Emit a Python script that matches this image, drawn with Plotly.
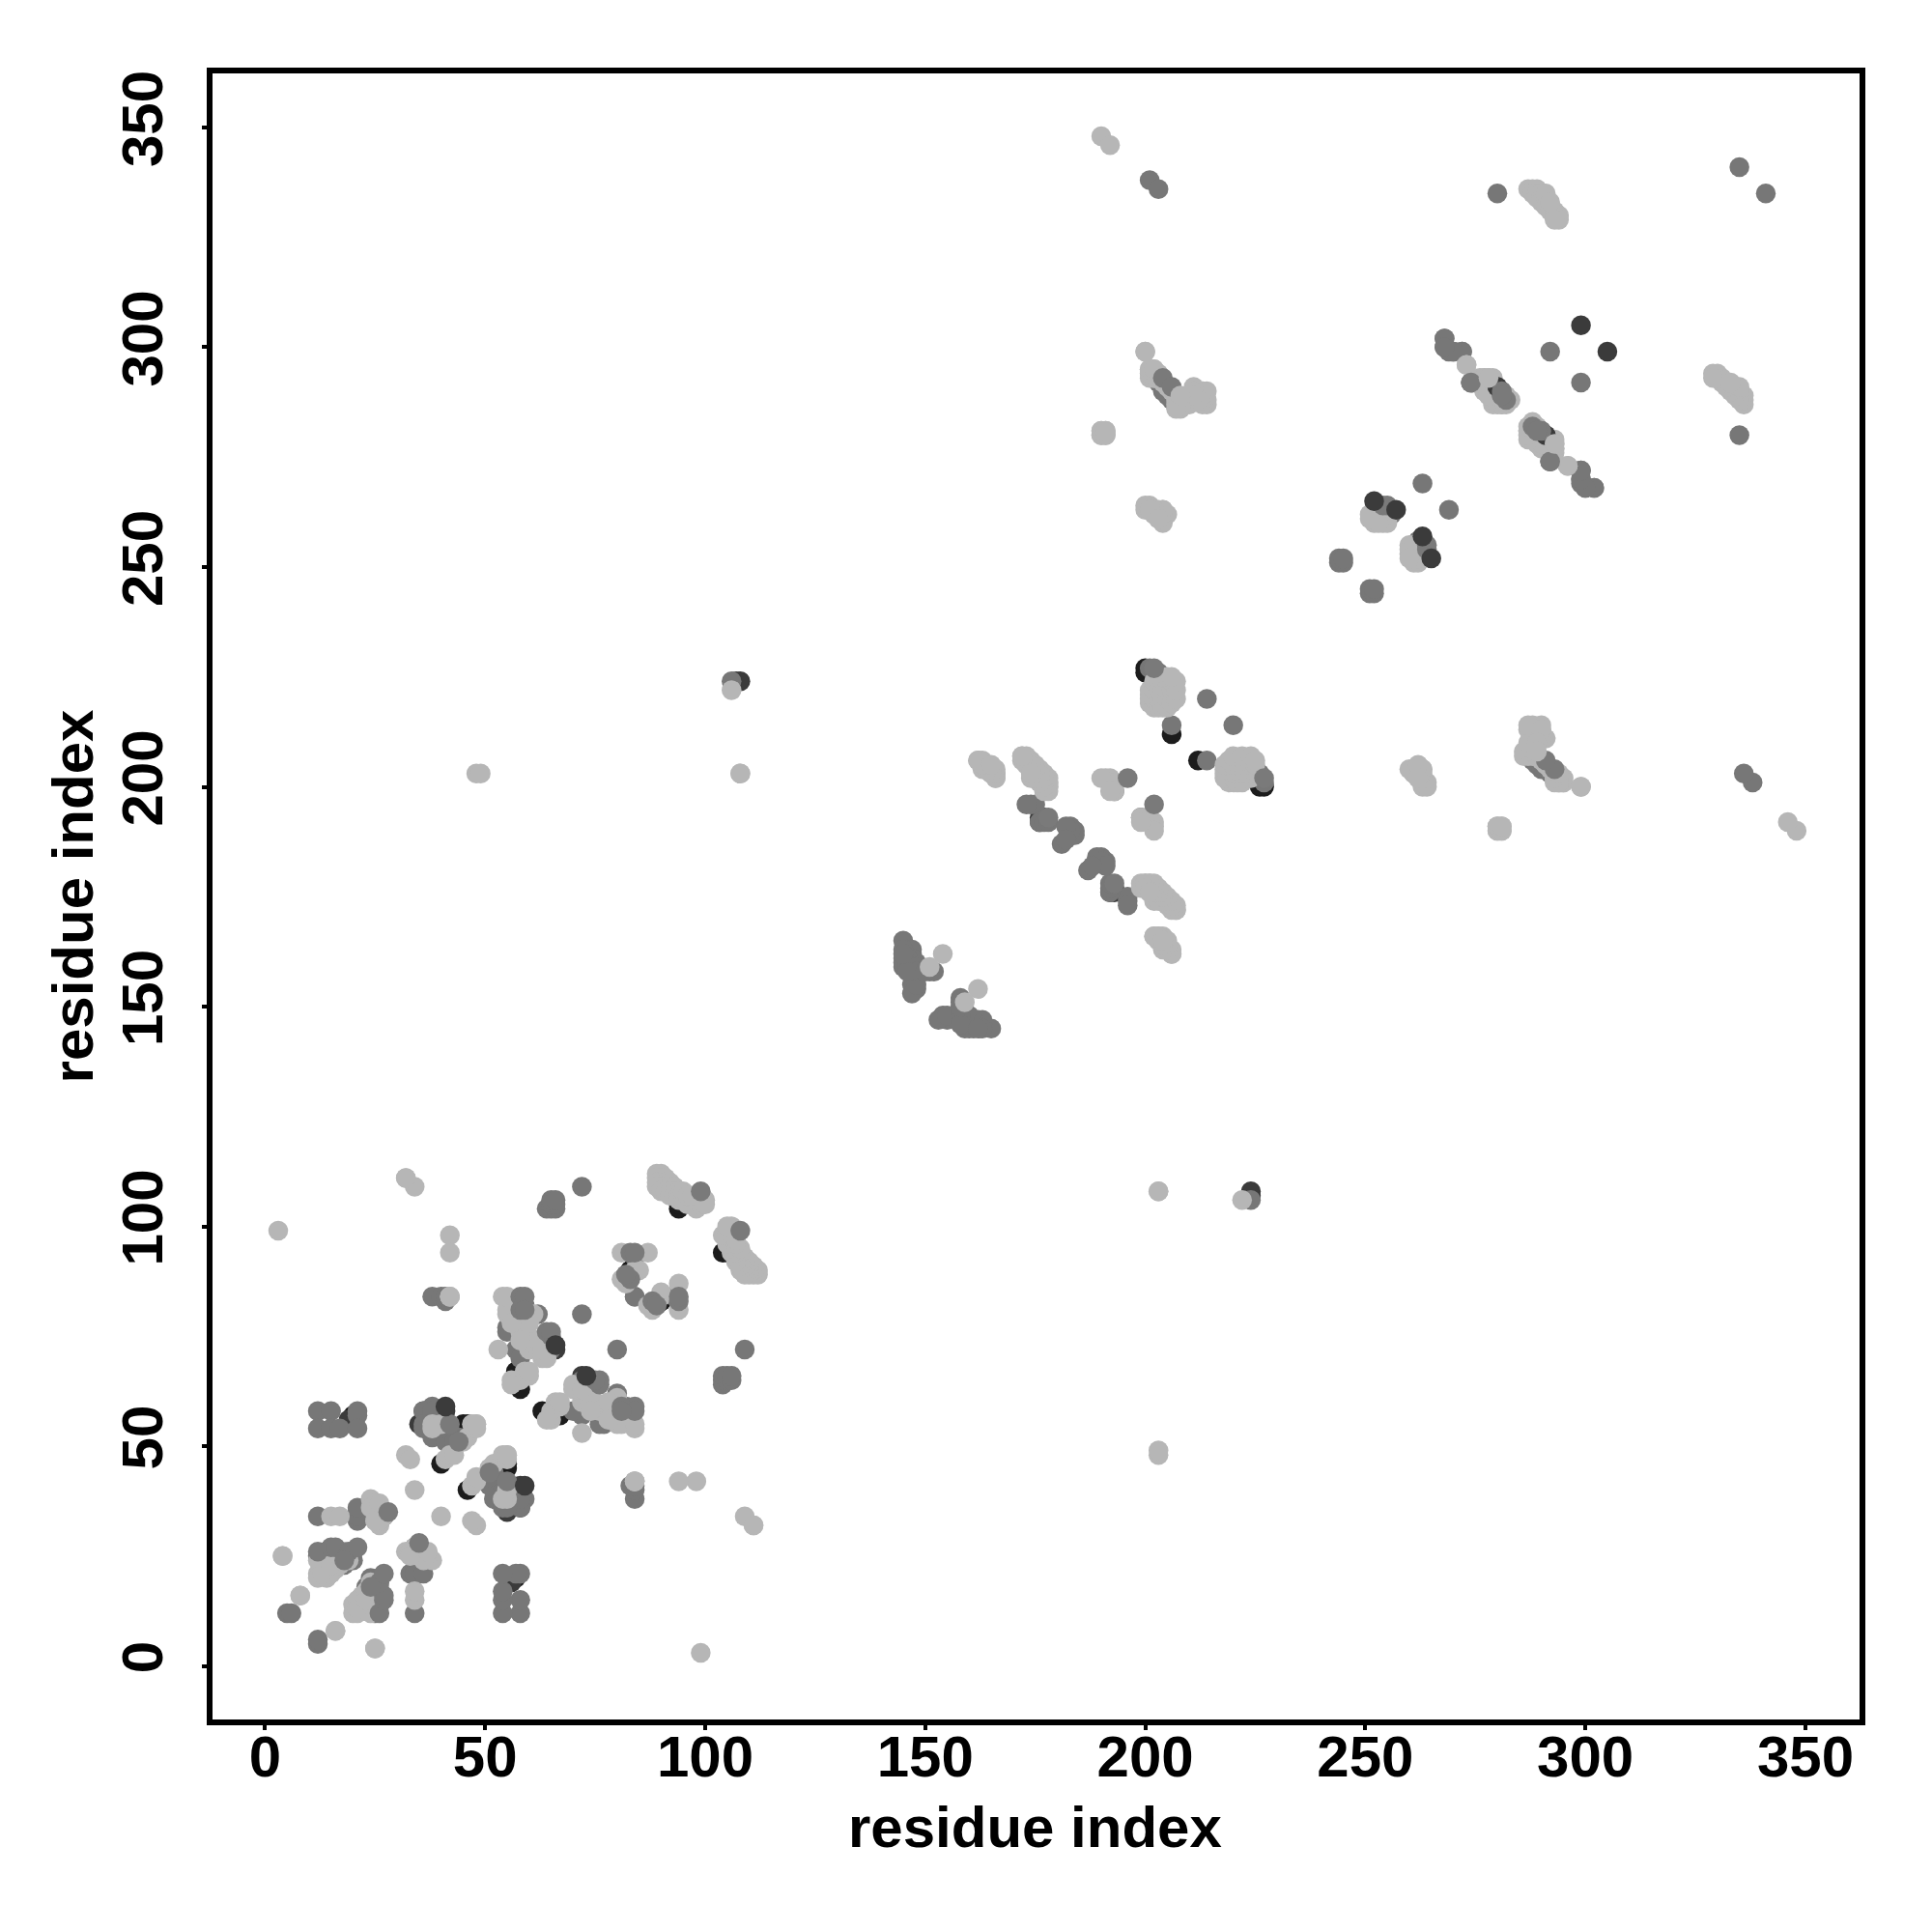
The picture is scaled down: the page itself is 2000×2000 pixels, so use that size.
import plotly.graph_objects as go

# Contact pairs (residue i, residue j), i < j; the map is symmetric.
black_pairs = [(20,57),(40,46),(45,55),(57,67),(58,63),(83,90),(94,104),(94,105),(83,90),(206,212),(200,227),(200,226),(14,26),(46,55)]
dark_pairs = [(41,58),(35,55),(36,56),(36,58),(66,72),(107,224),(108,224),(299,305),(253,264),(279,291),(176,193),(177,193),(176,192),(19,56),(16,24),(15,25),(14,26),(280,289)]
mid_low = [(5,12),(6,12),(72,109),(72,80),(64,104),(65,104),(66,104),(65,105),(66,105),(65,106),(66,106),
           (38,84),(40,84),(41,83),(41,84),(12,58),(15,58),(12,54),(15,54),(17,54),(21,58),(21,57),(21,54),
           (12,25),(20,26),(17,26),(18,25),(13,25),(14,25),(16,26),(18,23),(20,24),
           (12,34),(21,35),(21,33),(22,34),(21,34),(21,36),(27,34),(26,33),
           (38,59),(36,58),(38,52),(42,51),(41,51),(38,58),(36,54),(41,54),(36,55),(44,52),(43,51),
           (55,77),(58,72),(57,72),(59,82),(65,72),(58,70),(55,76),(62,80),(59,81),(84,93),(84,84),
           (145,165),(146,162),(145,159),(147,155),(148,154),(146,163),(147,160),(145,161),(148,160),(147,162),(146,160),(152,158),(147,158),(147,163),(145,160),
           (147,153),(148,155),(147,161),(146,161),(145,163),(146,159),(147,159),(148,159),(148,158),(146,158),(145,162),(151,158),(150,158),
           (174,196),(175,196),(176,192),(177,192),(178,192),(181,187),(183,191),(184,190),(184,189),(183,190),(182,191),(182,188),(173,196),(193,199),
           (206,214),(214,220),(201,227),(203,226),(203,292),(205,290),(207,288),
           (201,338),(203,336),(280,335),(335,341),(292,299),(268,302),(268,300),(270,299),(272,299),(274,292),
           (290,278),(291,279),(292,274),(292,275),(291,277),(299,272),(299,269),(299,270),(302,268),(300,268),
           (263,269),(254,263),(263,255),(264,253),(263,253),(262,256),(244,251),(245,251),(244,252),(245,252),(106,224),(288,206),(289,205),(290,204),(292,204)]
light_pairs = [(3,99),(4,25),(8,16),(16,8),(25,4),(32,111),(34,109),(42,98),(42,94),(32,48),(33,47),(34,40),(53,72),(42,84),
               (190,348),(192,346),
               (12,21),(14,20),(16,22),(15,24),(13,22),(14,23),(12,20),(15,21),(17,23),(16,25),(14,24),(12,24),(13,21),(15,23),(17,25),(18,26),(19,24),
               (24,38),(25,35),(26,32),(25,37),(26,36),(27,34),(26,33),(27,35),(15,34),(17,34),(24,36),(25,33),(26,37),
               (38,55),(48,55),(46,52),(41,47),(42,48),(45,51),(43,48),(40,55),(48,54),(47,55),(38,54),
               (54,84),(55,80),(61,80),(58,76),(60,72),(63,70),(56,82),(55,81),(57,78),(59,77),(60,75),(61,74),(62,72),(63,71),(64,72),(56,65),(60,66),(59,67),(58,65),(60,67),(56,64),(64,70),(59,75),(59,80),(60,78),(62,74),(63,72),(56,78),(55,84),(58,74),
               (81,94),(87,94),(84,90),(81,88),(82,87),(85,90),
               (89,112),(90,112),(89,111),(90,111),(91,111),(89,110),(90,110),(91,110),(92,110),(89,109),(90,109),(91,109),(92,109),(93,109),(90,108),(91,108),(92,108),(93,108),(94,108),(92,107),(93,107),(94,107),(95,107),(96,106),(94,106),(95,106),(97,105),(96,105),(97,106),(98,105),(98,104),(99,106),(100,106),(98,106),(99,105),(100,105),(95,108),(96,107),(97,107),
               (154,162),(151,159),
               (162,206),(163,205),(164,205),(163,204),(164,204),(165,203),(166,203),(166,202),(165,204),
               (172,207),(173,207),(173,206),(174,206),(174,205),(175,205),(175,204),(176,204),(176,203),(177,203),(177,202),(178,202),(178,201),(178,200),(177,200),(176,201),
               (191,202),(192,202),(193,199),(192,201),(190,202),(192,199),
               (199,178),(200,178),(201,178),(199,177),(200,177),(201,177),(202,177),(201,176),(202,176),(203,175),(203,176),(204,175),(204,174),(205,174),(205,173),(206,173),(206,172),(207,172),(202,174),(203,174),
               (202,166),(203,166),(204,166),(203,165),(204,165),(204,164),(205,164),(205,163),(206,163),(206,162),(205,165),
               (201,219),(201,220),(201,221),(201,222),(202,218),(202,220),(202,222),(202,224),(203,218),(203,220),(203,222),(203,224),(204,218),(204,220),(204,222),(204,224),(205,218),(205,220),(205,222),(205,224),(206,219),(206,222),(206,224),(207,220),(207,222),(207,224),(205,225),(206,225),
               (200,299),(201,295),(202,295),(201,294),(202,293),(204,292),(206,290),(208,288),(208,287),(209,287),(211,290),(211,288),(210,287),(214,290),(214,288),(214,287),(213,290),(210,289),(205,291),(207,289),(203,294),
               (190,280),(191,280),(190,281),(191,281),
               (201,263),(202,263),(203,263),(204,263),(204,261),(203,261),(203,262),(204,260),(205,262),(202,262),
               (108,203),(48,203),(49,203),(203,108),
               (261,204),(262,204),(262,203),(263,204),(262,202),(263,202),(263,200),(264,201),(264,200),(263,201),(261,203),
               (287,213),(288,213),(289,213),(290,213),(288,212),(291,211),(290,211),(289,211),(286,208),(287,208),(288,207),(287,207),(289,207),(286,207),(293,202),(294,202),(293,201),(294,201),(295,201),(295,202),(299,200),(280,190),(281,190),(280,191),(281,191),
               (287,336),(288,336),(289,336),(288,335),(289,335),(290,335),(289,334),(290,334),(291,334),(290,333),(291,333),(291,332),(292,332),(292,331),(293,331),(293,330),(294,330),(294,329),(293,329),(291,335),(292,333),
               (273,296),(276,293),(277,293),(278,293),(276,292),(277,292),(278,292),(279,292),(278,291),(279,290),(277,290),(278,290),(279,289),(280,288),(281,287),(279,287),(280,287),(282,287),(283,288),(282,289),
               (287,281),(288,280),(288,281),(289,279),(290,280),(293,279),(293,277),(296,273),(289,278),
               (252,262),(253,261),(254,260),(252,261),(253,263),(254,262),(255,261),(252,260),
               (260,255),(261,254),(261,252),(262,251),(262,253),(263,252),(260,253),(261,251),(106,222)]
mid_top = [(12,26),(15,27),(16,27),(19,26),(18,24),(21,27),(28,35),(42,55),(44,51),(58,84),(58,81),(64,76),(65,75),(99,108),(202,227),(196,202),(193,178),(84,59),(81,59),(76,65),(204,293),(206,291),(289,281),(290,281),(291,280),(282,288),(274,292),(83,94),(84,94),(83,88),(82,89),(254,264),(264,255)]
dark_top = [(41,59),(66,73),(257,263),(252,265),(280,291)]
mid_last = [(281,290),(281,289)]
light_top = [(293,278),(48,55),(84,42),(42,84),(111,32),(208,289)]

# Draw order, bottom to top.
layers = [("black", black_pairs, "#1c1c1c"),
          ("dark", dark_pairs, "#3b3b3b"),
          ("mid", mid_low, "#777777"),
          ("light", light_pairs, "#b6b6b6"),
          ("mid top", mid_top, "#7a7a7a"),
          ("dark top", dark_top, "#3b3b3b"),
          ("mid last", mid_last, "#7a7a7a"),
          ("light top", light_top, "#b6b6b6")]

x_ticks = [0, 50, 100, 150, 200, 250, 300, 350]
y_ticks = [0, 50, 100, 150, 200, 250, 300, 350]

fig = go.Figure()
for name, pairs, colour in layers:
    xs = [p[0] for p in pairs] + [p[1] for p in pairs]
    ys = [p[1] for p in pairs] + [p[0] for p in pairs]
    fig.add_trace(go.Scatter(x=xs, y=ys, mode="markers", name=name,
                             marker=dict(size=20.5, color=colour, line=dict(width=0))))

font = dict(family="Liberation Sans", size=60, color="black", weight="bold")
axis = dict(showline=True, linecolor="black", linewidth=6, mirror=True, ticks="outside", ticklen=5,
            tickwidth=4, tickcolor="black", showgrid=False, zeroline=False, tickfont=font, tickmode="array")
fig.update_layout(
    width=2000, height=2000, showlegend=False, paper_bgcolor="white", plot_bgcolor="white",
    margin=dict(l=220, r=75, t=75.5, b=219.5, autoexpand=False),
    font=font,
    xaxis=dict(axis, range=[-11.93, 362.3], tickvals=x_ticks, ticktext=[str(v) for v in x_ticks], ticklabelstandoff=-24),
    yaxis=dict(axis, range=[-12.18, 362.3], tickvals=y_ticks, ticktext=[str(v) for v in y_ticks], tickangle=-90, ticklabelstandoff=17,
               title=dict(text="<b>residue index</b>", font=font, standoff=0)),
    annotations=[dict(text="<b>residue index</b>", xref="paper", yref="paper", x=0.4995, y=-0.0654,
                      xanchor="center", yanchor="middle", showarrow=False, font=font)],
)
fig.write_html("out.html", post_script="document.body.style.margin='0';", config={"displayModeBar": False})
